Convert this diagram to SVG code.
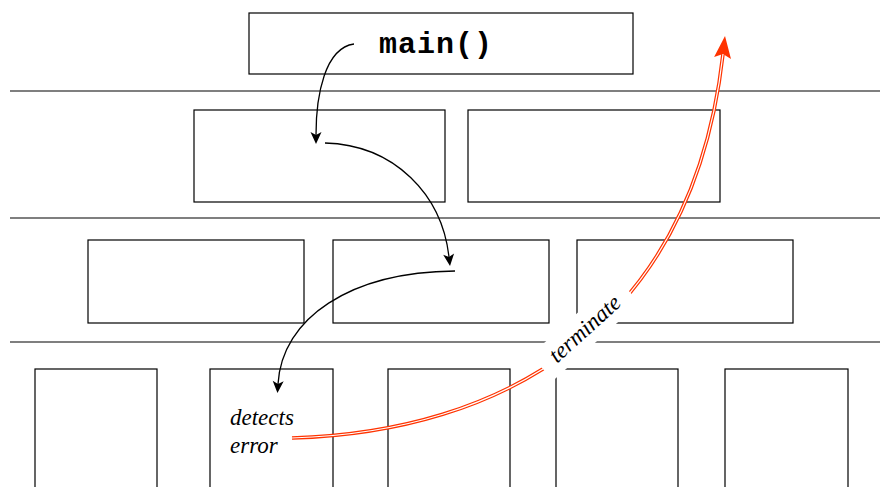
<svg xmlns="http://www.w3.org/2000/svg" width="880" height="487" viewBox="0 0 880 487">
  <style>
    .box { fill: none; stroke: #000; stroke-width: 1.2; }
    .rule { stroke: #000; stroke-width: 1.2; }
    .call { fill: none; stroke: #000; stroke-width: 1.3; }
    .note { font-family: "Liberation Serif", "DejaVu Serif", serif; font-style: italic; font-size: 23px; fill: #000; }
    .code { font-family: "Liberation Mono", "DejaVu Sans Mono", monospace; font-weight: bold; font-size: 30px; fill: #000; }
  </style>
  <defs>
    <marker id="arrowBlack" markerUnits="userSpaceOnUse" markerWidth="16" markerHeight="14" viewBox="-2 -7 16 14" refX="3" refY="0" orient="auto">
      <path d="M12,0 L0,-5.5 L3,0 L0,5.5 Z" fill="#000"/>
    </marker>
    <marker id="arrowRed" markerUnits="userSpaceOnUse" markerWidth="26" markerHeight="22" viewBox="-2 -11 26 22" refX="4" refY="0" orient="auto">
      <path d="M22,0 L0,-8.5 L4,0 L0,8.5 Z" fill="#ff3300"/>
    </marker>
  </defs>

  <rect width="880" height="487" fill="#fff"/>

  <!-- level separators -->
  <g id="rules">
    <line class="rule" x1="10" y1="91" x2="880" y2="91"/>
    <line class="rule" x1="10" y1="218" x2="880" y2="218"/>
    <line class="rule" x1="10" y1="342" x2="880" y2="342"/>
  </g>

  <g id="main">
    <rect class="box" x="249" y="13" width="384" height="61"/>
    <text class="code" x="436" y="53" text-anchor="middle" letter-spacing="1">main()</text>
  </g>

  <g id="l2a"><rect class="box" x="194" y="110" width="251" height="92"/></g>
  <g id="l2b"><rect class="box" x="468" y="110" width="252" height="92"/></g>

  <g id="l3a"><rect class="box" x="88" y="240" width="216" height="83"/></g>
  <g id="l3b"><rect class="box" x="333" y="240" width="216" height="83"/></g>
  <g id="l3c"><rect class="box" x="577" y="240" width="216" height="83"/></g>

  <g id="l4a"><rect class="box" x="35" y="369" width="122" height="130"/></g>
  <g id="l4b">
    <rect class="box" x="210" y="369" width="123" height="130"/>
    <text class="note" x="230" y="425">detects</text>
    <text class="note" x="230" y="453">error</text>
  </g>
  <g id="l4c"><rect class="box" x="388" y="369" width="122" height="130"/></g>
  <g id="l4d"><rect class="box" x="556" y="369" width="122" height="130"/></g>
  <g id="l4e"><rect class="box" x="725" y="369" width="123" height="130"/></g>

  <!-- call chain and termination path -->
  <g id="connectors">
    <path class="call" d="M354,44 C325,48 316,95 316,135" marker-end="url(#arrowBlack)"/>
    <path class="call" d="M325,143 C395,145 442,195 449,257" marker-end="url(#arrowBlack)"/>
    <path class="call" d="M455,271 C350,272 282,318 278,384" marker-end="url(#arrowBlack)"/>

    <path d="M292,438 C500,432 692,330 723,54" fill="none" stroke="#ff3300" stroke-width="3.6" marker-end="url(#arrowRed)"/>
    <path d="M292,438 C500,432 692,330 723,54" fill="none" stroke="#fff" stroke-width="1.2"/>

    <g id="terminate-label" transform="translate(585,329) rotate(-42)">
      <rect x="-58" y="-17" width="116" height="34" fill="#fff"/>
      <text class="note" x="0" y="7" text-anchor="middle">terminate</text>
    </g>
  </g>
</svg>
